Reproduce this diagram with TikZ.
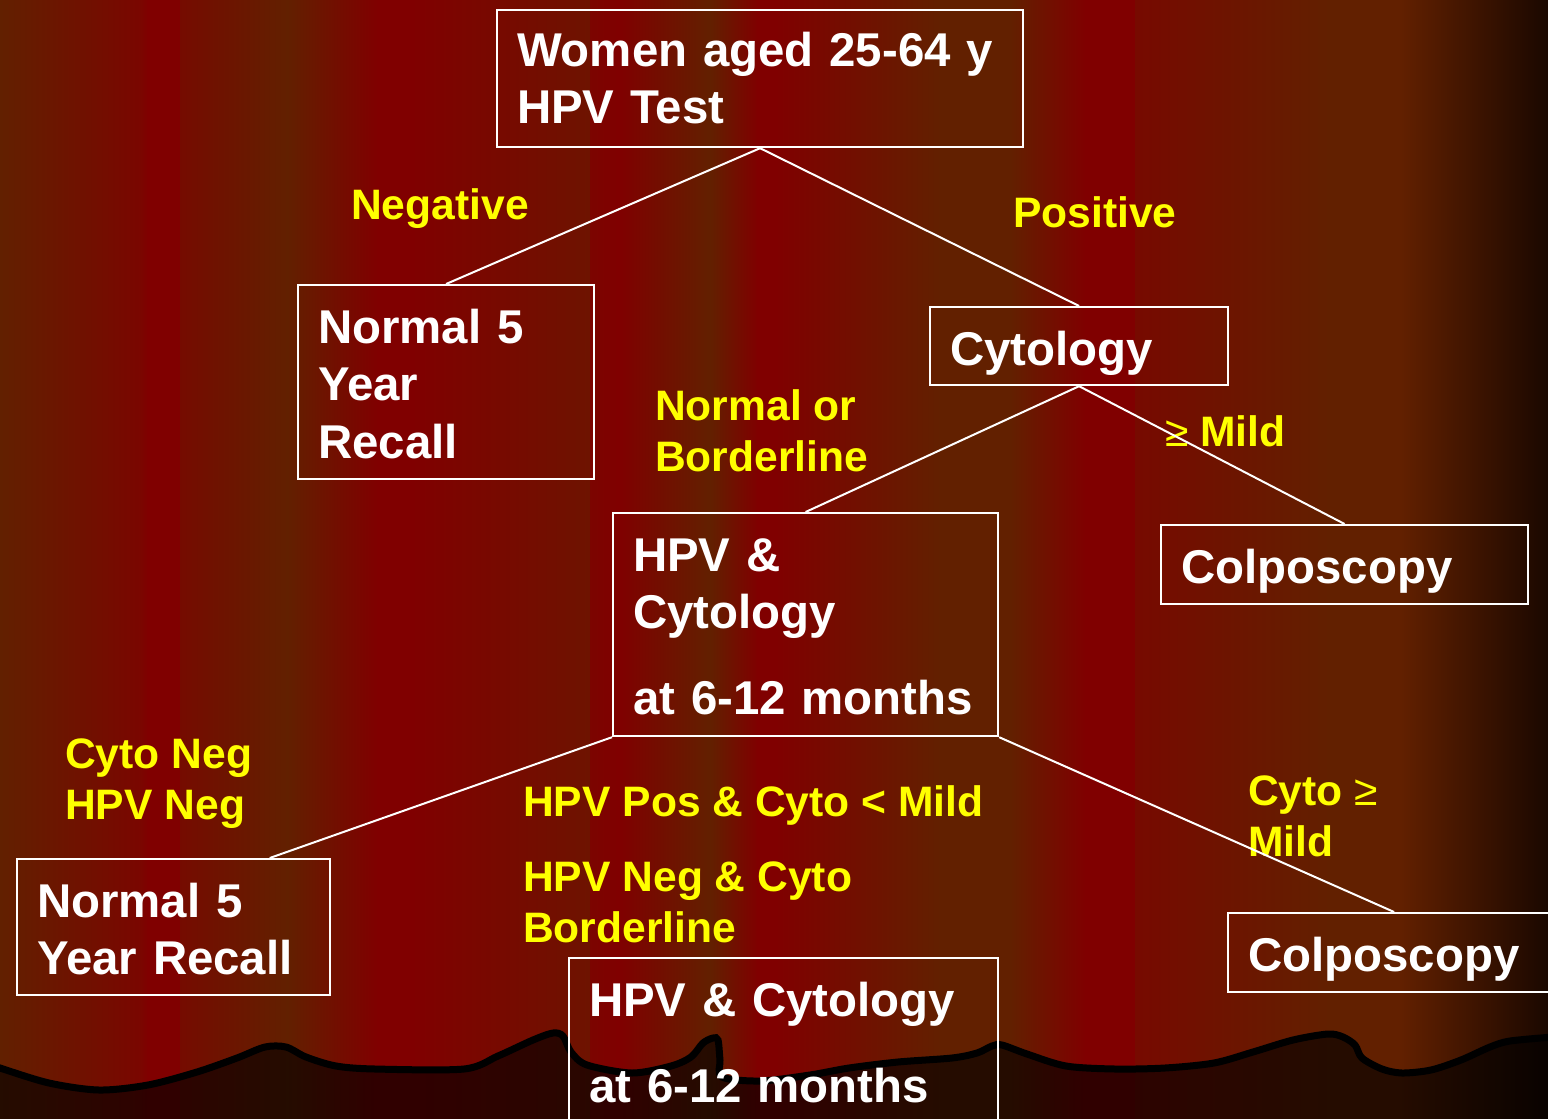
\documentclass[tikz,border=0pt]{standalone}
\usepackage{fontspec}
\setmainfont{Liberation Sans}
\usetikzlibrary{positioning,calc}
\definecolor{scrBrown}{HTML}{622000}
\definecolor{scrRed}{HTML}{800000}
\definecolor{scrDark}{HTML}{1A0800}
\definecolor{scrYellow}{HTML}{FFFF00}
\tikzset{
  scr/box/.style={draw=white, line width=2.2pt, text=white, align=left,
    anchor=north west, inner xsep=20pt, inner ysep=0pt, text height=58pt,
    font=\fontsize{47.4}{57.5}\selectfont\bfseries},
  scr/label/.style={text=scrYellow, align=left, inner sep=0pt,
    font=\fontsize{42.6}{51}\selectfont\bfseries},
  scr/link/.style={draw=white, line width=2pt},
  scr/ground/.style={fill=black, fill opacity=0.62, draw=black, line width=7pt},
}

\begin{document}
\begin{tikzpicture}[x=1pt, y=-1pt]
\useasboundingbox (0,0) rectangle (1548,1119);

% ===== Curtain background =====
\foreach \xa/\xb/\ca/\cb in {
    0/140/scrBrown/scrRed!80!scrBrown,
    140/147/scrRed!80!scrBrown/scrRed,
    147/180/scrRed/scrRed,
    180/287/scrRed!65!scrBrown/scrBrown,
    287/377/scrBrown/scrRed,
    377/410/scrRed/scrRed,
    410/590/scrRed/scrRed!40!scrBrown,
    590/618/scrRed!85!scrBrown/scrRed,
    618/710/scrRed/scrBrown,
    710/757/scrBrown/scrRed,
    757/775/scrRed/scrRed,
    775/940/scrRed/scrBrown,
    940/1010/scrBrown/scrBrown,
    1010/1085/scrBrown/scrRed,
    1085/1135/scrRed/scrRed,
    1135/1330/scrRed!70!scrBrown/scrBrown,
    1330/1400/scrBrown/scrBrown,
    1400/1548/scrBrown/scrDark}
  \shade[left color=\ca, right color=\cb] (\xa,0) rectangle ({\xb+1},1119);

% ===== Ground silhouette =====
\path[scr/ground] plot[smooth, tension=0.5] coordinates {
    (-5,1066) (0,1068) (49,1083) (99,1090) (148,1085) (197,1072) (237,1058)
    (265,1047) (286,1047) (306,1057) (336,1066) (375,1069) (464,1069)
    (498,1056) (533,1040) (553,1033) (563,1036) (571,1052) (587,1065)
    (632,1073) (671,1066) (691,1057) (703,1043) (713,1038) (718,1040)
    (720,1060) (722,1077) (760,1081) (810,1075) (849,1068) (898,1062)
    (952,1058) (977,1053) (992,1046) (1002,1045) (1027,1054) (1066,1066)
    (1115,1069) (1165,1068) (1214,1063) (1253,1052) (1293,1040) (1328,1034)
    (1343,1037) (1355,1045) (1362,1058) (1382,1069) (1402,1073) (1431,1070)
    (1461,1060) (1490,1047) (1510,1041) (1553,1037)}
  -- (1553,1130) -- (-5,1130) -- cycle;

% ===== Boxes =====
\node[scr/box, text width=486, text height=56pt, text depth=81pt] (test) at (496,9) {Women aged 25-64 y\\HPV Test};
\node[scr/box, text width=256, text depth=136pt] (recall) at (297,284) {Normal 5\\Year\\Recall};
\node[scr/box, text width=258, text depth=20pt]  (cyto)   at (929,306) {Cytology};
\node[scr/box, text width=345, text depth=165pt] (repeat) at (612,512) {HPV \&\\Cytology\\[28.5pt]at 6-12 months};
\node[scr/box, text width=327, text depth=21pt]  (colpo)  at (1160,524) {Colposcopy};
\node[scr/box, text width=273, text depth=78pt]  (recalltwo) at (16,858) {Normal 5\\Year Recall};
\node[scr/box, text width=292, text depth=21pt]  (colpotwo)  at (1227,912) {Colposcopy};
\node[scr/box, text width=389, text depth=112pt] (repeattwo) at (568,957) {HPV \& Cytology\\[28.5pt]at 6-12 months};

% ===== Branch labels =====
\node[scr/label, anchor=base west]  (neg)     at (351,219)  {Negative};
\node[scr/label, anchor=base west]  (pos)     at (1013,227) {Positive};
\node[scr/label, anchor=north west] (normbl)  at (655,389)  {Normal or\\Borderline};
\node[scr/label, anchor=base west]  (mild)    at (1165,446) {{\mdseries ≥} Mild};
\node[scr/label, anchor=north west] (bothneg) at (65,739)   {Cyto Neg\\HPV Neg};
\node[scr/label, anchor=base west]  (hpvpos)  at (523,816)  {HPV Pos \& Cyto < Mild};
\node[scr/label, anchor=north west] (hpvneg)  at (523,862)  {HPV Neg \& Cyto\\Borderline};
\node[scr/label, anchor=north west] (cytomild) at (1248,776) {Cyto {\mdseries ≥}\\Mild};

% ===== Connectors =====
\draw[scr/link] (test.south)   -- (recall.north);
\draw[scr/link] (test.south)   -- (cyto.north);
\draw[scr/link] (cyto.south)   -- (repeat.north);
\draw[scr/link] (cyto.south)   -- (colpo.north);
\draw[scr/link] (repeat.south west) -- ($(recalltwo.north west)!0.805!(recalltwo.north east)$);
\draw[scr/link] (repeat.south east) -- (colpotwo.north);

\end{tikzpicture}
\end{document}
